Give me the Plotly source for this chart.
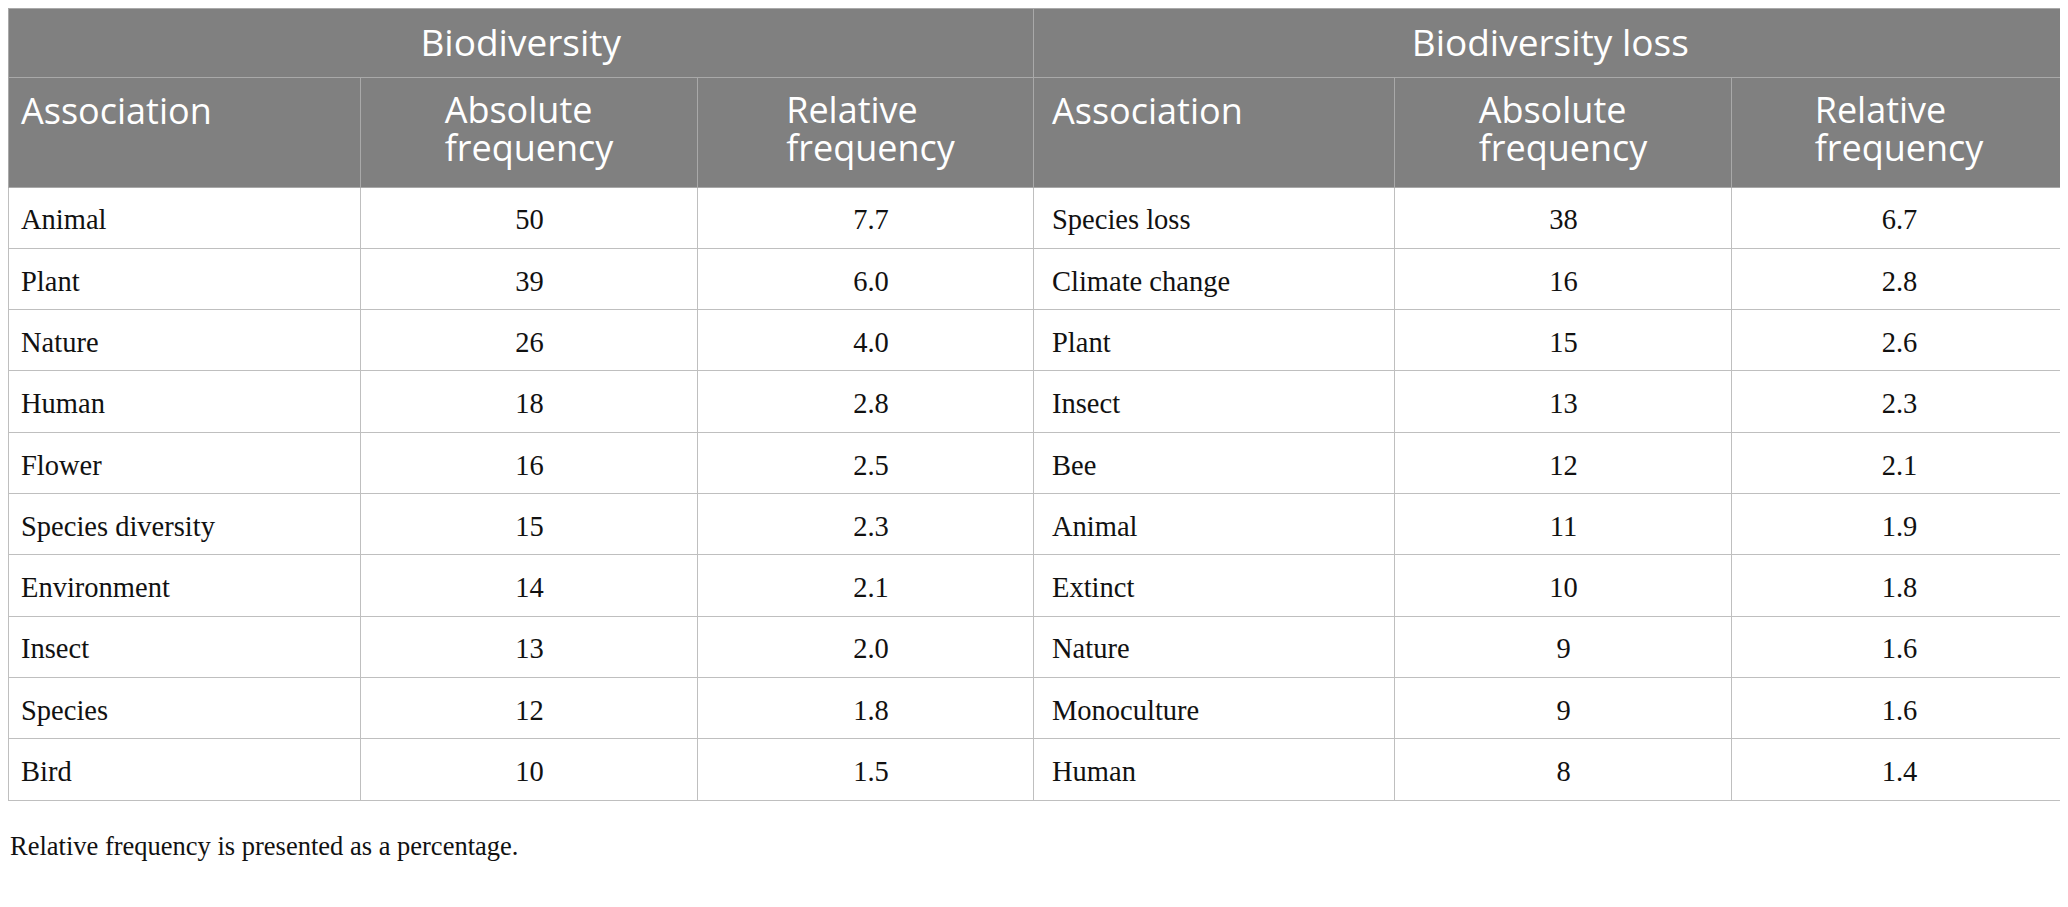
import plotly.graph_objects as go

# group headers (top row)
groups = ["Biodiversity", "Biodiversity loss"]

# column headers
col_titles = ["Association", "Absolute<br>frequency", "Relative<br>frequency",
              "Association", "Absolute<br>frequency", "Relative<br>frequency"]

# Biodiversity
bio_assoc = ["Animal", "Plant", "Nature", "Human", "Flower", "Species diversity",
             "Environment", "Insect", "Species", "Bird"]
bio_abs = [50, 39, 26, 18, 16, 15, 14, 13, 12, 10]
bio_rel = ["7.7", "6.0", "4.0", "2.8", "2.5", "2.3", "2.1", "2.0", "1.8", "1.5"]

# Biodiversity loss
loss_assoc = ["Species loss", "Climate change", "Plant", "Insect", "Bee", "Animal",
              "Extinct", "Nature", "Monoculture", "Human"]
loss_abs = [38, 16, 15, 13, 12, 11, 10, 9, 9, 8]
loss_rel = ["6.7", "2.8", "2.6", "2.3", "2.1", "1.9", "1.8", "1.6", "1.6", "1.4"]

note = "Relative frequency is presented as a percentage."

# the page body adds 8px, so the figure is a bit smaller than the window
W, H = 2060, 891
HEAD_FILL = "#808080"
HEAD_LINE = "#a9a9a9"
CELL_LINE = "#bfbfbf"
CLEAR = "rgba(0,0,0,0)"
sans = "Open Sans"
serif = "Liberation Serif"

widths = [353, 337, 336, 361, 337, 336]        # grid columns
text_widths = [348, 337, 346, 351, 337, 335]   # text columns (left pad for names)
aligns = ["left", "center", "center", "left", "center", "center"]
body = [bio_assoc, bio_abs, bio_rel, loss_assoc, loss_abs, loss_rel]

TOP_A = 0       # group header row top (px from figure top)
TOP_B = 69      # column header row top
HEAD_B = 110
ROW_H = 61.3
HEAD_SIZE = 36

# text offsets inside the grid (plotly puts cell text at the top)
dA, dB1, dB2, dC = 12, 12, 0, 13

XG = [0, 2059 / W]
XT = [5 / W, 2059 / W]


def ydom(top):
    return [0, 1 - top / H]


def big(t):
    # two-line titles: small base size keeps the line spacing tight
    return "<br>".join('<span style="font-size:%dpx">%s</span>' % (HEAD_SIZE, s)
                       for s in t.split("<br>"))


one_line = [t if "<br>" not in t else "" for t in col_titles]
two_line = [big(t) if "<br>" in t else "" for t in col_titles]

fig = go.Figure()

# ---- grid layer (fills and lines only)
fig.add_trace(go.Table(
    domain=dict(x=XG, y=ydom(TOP_A)),
    columnwidth=[sum(widths[:3]), sum(widths[3:])],
    header=dict(values=["" for g in groups], fill_color=HEAD_FILL,
                line_color=HEAD_LINE, height=69),
    cells=dict(values=[[], []], height=1),
))
fig.add_trace(go.Table(
    domain=dict(x=XG, y=ydom(TOP_B)),
    columnwidth=widths,
    header=dict(values=["" for t in col_titles], fill_color=HEAD_FILL,
                line_color=HEAD_LINE, height=HEAD_B),
    cells=dict(values=[["" for v in col] for col in body],
               fill_color="white", line_color=CELL_LINE, height=ROW_H),
))

# ---- text layer
fig.add_trace(go.Table(
    domain=dict(x=XG, y=ydom(TOP_A + dA)),
    columnwidth=[sum(widths[:3]), sum(widths[3:])],
    header=dict(values=groups, fill_color=CLEAR, line_color=CLEAR,
                align="center", height=69,
                font=dict(family=sans, size=37, color="white")),
    cells=dict(values=[[], []], height=1),
))
fig.add_trace(go.Table(
    domain=dict(x=XT, y=ydom(TOP_B + dB1)),
    columnwidth=text_widths,
    header=dict(values=one_line, fill_color=CLEAR,
                line_color=CLEAR, align=aligns, height=HEAD_B,
                font=dict(family=sans, size=HEAD_SIZE, color="white")),
    cells=dict(values=[[] for t in col_titles], height=1),
))
fig.add_trace(go.Table(
    domain=dict(x=XT, y=ydom(TOP_B + dB2)),
    columnwidth=text_widths,
    header=dict(values=two_line, fill_color=CLEAR,
                line_color=CLEAR, align=aligns, height=HEAD_B,
                font=dict(family=sans, size=29.5, color="white")),
    cells=dict(values=[[] for t in col_titles], height=1),
))
fig.add_trace(go.Table(
    domain=dict(x=XT, y=ydom(TOP_B + dC)),
    columnwidth=text_widths,
    header=dict(values=["" for t in col_titles], fill_color=CLEAR,
                line_color=CLEAR, height=HEAD_B),
    cells=dict(values=body, fill_color=CLEAR, line_color=CLEAR,
               align=aligns, height=ROW_H,
               font=dict(family=serif, size=28.5, color="#111111")),
))

fig.add_annotation(text=note, x=0, y=1 - 837.5 / H, xref="paper", yref="paper",
                   xanchor="left", yanchor="middle", showarrow=False,
                   font=dict(family=serif, size=26.5, color="#111111"))

fig.update_layout(width=W, height=H, margin=dict(l=0, r=0, t=0, b=0),
                  paper_bgcolor="white", plot_bgcolor="white")

fig.write_html("out.html")
